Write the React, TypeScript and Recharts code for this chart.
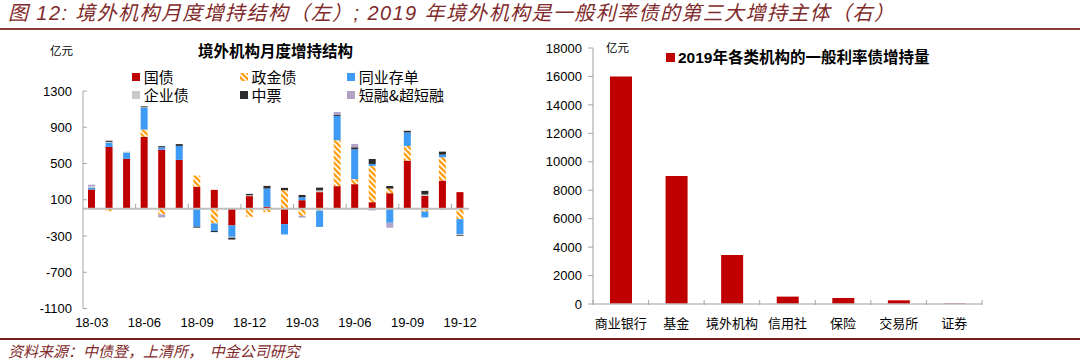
import React from "react";
import { BarChart, Bar, XAxis, YAxis, ReferenceLine } from "recharts";

// left: monthly net purchases by foreign institutions, 亿元
const months = [
  "18-03", "18-04", "18-05", "18-06", "18-07", "18-08", "18-09", "18-10", "18-11", "18-12", "19-01",
  "19-02", "19-03", "19-04", "19-05", "19-06", "19-07", "19-08", "19-09", "19-10", "19-11", "19-12",
];
const govBond = [213, 683, 551, 793, 653, 540, 242, 209, -184, 140, 22, -169, 95, 184, 250, 272, 73, 172, 532, 143, 312, 184];
const policyBank = [0, -25, 0, 81, -62, 0, 125, -161, 10, -88, -37, 206, -77, -20, 507, 55, 400, 51, 161, -29, 257, -114];
const ncd = [18, 48, 70, 242, 26, 154, -198, -84, -125, 0, 202, -114, 33, -180, 268, 330, 22, -154, 150, -66, 29, -165];
const corpBond = [15, 8, 10, 5, 0, 0, 0, 0, -10, 10, 0, 0, 0, 20, 0, 0, 0, 0, 0, 15, 0, -10];
const mtn = [0, 12, 0, 10, 12, 20, -10, -12, -20, 15, 29, 25, 25, 30, 10, 22, 55, 29, 18, 40, 33, -8];
const cp = [20, 0, 0, 0, -33, 0, 0, 0, 0, 0, 0, 0, -20, 0, 33, 37, -18, -55, 0, 0, -10, 0];
const leftTicks = [-1100, -700, -300, 100, 500, 900, 1300];

// right: 2019 purchases of rate bonds by institution type
const institutions = ["商业银行", "基金", "境外机构", "信用社", "保险", "交易所", "证券"];
const holdings2019 = [16000, 9000, 3450, 520, 420, 260, 40];
const rightTicks = [0, 2000, 4000, 6000, 8000, 10000, 12000, 14000, 16000, 18000];

const series = [
  { key: "gov", name: "国债", values: govBond, fill: "#C00000" },
  { key: "policy", name: "政金债", values: policyBank, fill: "url(#hatch)" },
  { key: "ncd", name: "同业存单", values: ncd, fill: "#3D9BF5" },
  { key: "corp", name: "企业债", values: corpBond, fill: "#C8C8C8" },
  { key: "mtn", name: "中票", values: mtn, fill: "#2B2B2B" },
  { key: "cp", name: "短融&超短融", values: cp, fill: "#B3A2C7" },
];

const monthlyData = months.map((m, i) => {
  const row: any = { month: m };
  series.forEach((s) => (row[s.key] = s.values[i]));
  return row;
});
const rightData = institutions.map((name, i) => ({ name, value: holdings2019[i] }));

const NUM = "'Liberation Sans', Arial, 'Noto Sans CJK SC', sans-serif";
const CJK = "'Noto Sans CJK SC', sans-serif";
const RIGHT_PLOT_W = 540 - 98 - 53;

const LeftYTick = (props: any) => {
  const { x, y, payload } = props;
  return (
    <g>
      <text x={x} y={y} textAnchor="end" dominantBaseline="central" fontSize={13} fill="#000" fontFamily={NUM}>
        {payload.value}
      </text>
      <line x1={x + 11} x2={x + 15} y1={y} y2={y} stroke="#A6A6A6" />
    </g>
  );
};

const ZeroAxis = (props: any) => {
  const { x1, x2, y1 } = props;
  const band = (x2 - x1) / months.length;
  const marks: number[] = [];
  for (let i = 3; i < months.length; i += 3) marks.push(x1 + i * band);
  return (
    <g>
      <line x1={x1} x2={x2} y1={y1} y2={y1} stroke="#BFBFBF" strokeWidth={2} />
      {marks.map((mx) => (
        <line key={mx} x1={mx} x2={mx} y1={y1 - 5} y2={y1} stroke="#A6A6A6" />
      ))}
    </g>
  );
};

const RightXTick = (props: any) => {
  const { x, y, payload, index } = props;
  const half = RIGHT_PLOT_W / institutions.length / 2;
  return (
    <g>
      <text x={x} y={y + 18} textAnchor="middle" dominantBaseline="central" fontSize={13} fill="#000" fontFamily={CJK}>
        {payload.value}
      </text>
      <line x1={x - half} x2={x - half} y1={y - 4} y2={y + 1} stroke="#A6A6A6" />
      {index === institutions.length - 1 && (
        <line x1={x + half} x2={x + half} y1={y - 4} y2={y + 1} stroke="#A6A6A6" />
      )}
    </g>
  );
};

const abs = (left: number, top: number, extra: React.CSSProperties = {}): React.CSSProperties => ({
  position: "absolute",
  left,
  top,
  whiteSpace: "nowrap",
  ...extra,
});

export default function App() {
  return (
    <div style={{ position: "relative", width: 1080, height: 364, background: "#fff", overflow: "hidden" }}>
      <style>{`body{margin:0}`}</style>

      <div
        style={abs(8, 2, {
          fontSize: 20,
          lineHeight: "22px",
          letterSpacing: 1.4,
          fontStyle: "italic",
          color: "#7f2a2a",
          fontFamily: NUM,
        })}
      >
        图 12: 境外机构月度增持结构（左）; 2019 年境外机构是一般利率债的第三大增持主体（右）
      </div>
      <div style={abs(0, 28, { width: 1080, height: 2, background: "#8B3A3A" })} />

      <div style={abs(0, 0)}>
        <BarChart
          width={520}
          height={364}
          data={monthlyData}
          stackOffset="sign"
          barSize={7}
          margin={{ top: 91, right: 51, bottom: 25.5, left: 0 }}
        >
          <defs>
            <pattern id="hatch" width="4" height="4" patternUnits="userSpaceOnUse" patternTransform="rotate(-45)">
              <rect width="4" height="4" fill="#fff" />
              <rect width="2.2" height="4" fill="#FF9900" />
            </pattern>
          </defs>
          <XAxis
            dataKey="month"
            interval={2}
            axisLine={false}
            tickLine={false}
            tickSize={0}
            tickMargin={9}
            height={30}
            tick={{ fontSize: 13, fill: "#000", fontFamily: NUM }}
          />
          <YAxis
            type="number"
            domain={[-1100, 1300]}
            ticks={leftTicks}
            interval={0}
            width={83}
            tickSize={0}
            tickMargin={11}
            tickLine={false}
            axisLine={{ stroke: "#A6A6A6" }}
            tick={<LeftYTick />}
          />
          {series.map((s) => (
            <Bar key={s.key} dataKey={s.key} name={s.name} stackId="a" fill={s.fill} isAnimationActive={false} />
          ))}
          <ReferenceLine y={0} shape={ZeroAxis} />
        </BarChart>
      </div>

      <div style={abs(50, 43, { fontSize: 11.5, lineHeight: "14px", fontFamily: CJK, color: "#000" })}>亿元</div>
      <div style={abs(198, 41, { fontSize: 15.5, lineHeight: "18px", fontWeight: 700, fontFamily: CJK, color: "#000" })}>
        境外机构月度增持结构
      </div>
      {series.map((s, i) => {
        const col = i % 3;
        const row = Math.floor(i / 3);
        const left = [131.7, 239.5, 346.7][col];
        const top = [77.3, 95][row];
        return (
          <div
            key={s.key}
            style={abs(left, top - 8, {
              height: 16,
              display: "flex",
              alignItems: "center",
              fontFamily: CJK,
              fontSize: 15,
              color: "#000",
            })}
          >
            <svg width={8} height={8} style={{ marginRight: 4 }}>
              <rect width={8} height={8} fill={s.fill} />
            </svg>
            <span style={{ display: "inline-block", height: 16, lineHeight: "16px", overflow: "visible" }}>{s.name}</span>
          </div>
        );
      })}

      <div style={abs(540, 0)}>
        <BarChart width={540} height={364} data={rightData} barSize={22} margin={{ top: 48, right: 98, bottom: 30, left: 0 }}>
          <XAxis
            dataKey="name"
            interval={0}
            height={30}
            tickSize={0}
            tickMargin={0}
            tickLine={false}
            axisLine={{ stroke: "#BFBFBF", strokeWidth: 1.5 }}
            tick={<RightXTick />}
          />
          <YAxis
            type="number"
            domain={[0, 18000]}
            ticks={rightTicks}
            interval={0}
            width={53}
            tickSize={5}
            tickMargin={6}
            axisLine={{ stroke: "#BFBFBF", strokeWidth: 1.5 }}
            tickLine={{ stroke: "#A6A6A6" }}
            tick={{ fontSize: 13, fill: "#000", fontFamily: NUM }}
          />
          <Bar dataKey="value" name="2019年各类机构的一般利率债增持量" fill="#C00000" isAnimationActive={false} />
        </BarChart>
      </div>

      <div style={abs(606, 40, { fontSize: 11.5, lineHeight: "14px", fontFamily: CJK, color: "#000" })}>亿元</div>
      <div
        style={abs(666, 48, {
          height: 19,
          display: "flex",
          alignItems: "center",
          fontFamily: NUM,
          fontSize: 15.5,
          fontWeight: 700,
          color: "#000",
        })}
      >
        <span style={{ display: "inline-block", width: 9, height: 9, background: "#C00000", marginRight: 3 }} />
        <span style={{ lineHeight: "19px" }}>2019年各类机构的一般利率债增持量</span>
      </div>

      <div style={abs(0, 337.5, { width: 1080, height: 2, background: "#7A1F1F" })} />
      <div style={abs(8, 342, { fontSize: 15, lineHeight: "18px", fontStyle: "italic", color: "#7f2a2a", fontFamily: CJK })}>
        资料来源：中债登，上清所，&nbsp;&nbsp;中金公司研究
      </div>
    </div>
  );
}
